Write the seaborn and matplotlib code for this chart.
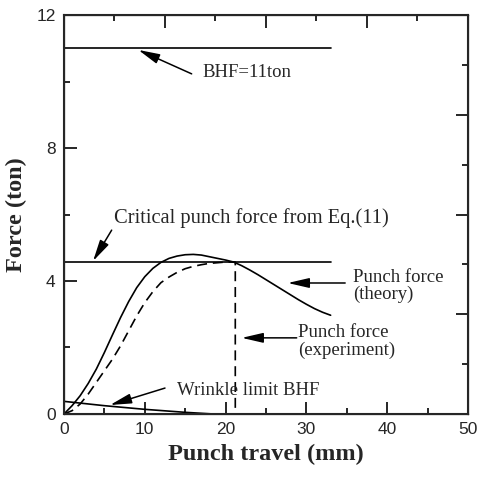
import numpy as np
import pandas as pd
import matplotlib
matplotlib.use("Agg")
import matplotlib.pyplot as plt
import seaborn as sns

# data
theory_x = [0, 1, 2, 3, 4, 5, 6, 7, 8, 9, 10, 11, 12, 13, 14, 15, 16, 17, 18, 19, 20,
            21, 22, 23, 24, 25, 26, 27, 28, 29, 30, 31, 32, 33]
theory_y = [0, 0.25, 0.55, 0.92, 1.35, 1.85, 2.38, 2.9, 3.38, 3.8, 4.13, 4.38, 4.56, 4.68, 4.75,
            4.79, 4.8, 4.78, 4.73, 4.68, 4.63, 4.57, 4.46, 4.33, 4.19, 4.04, 3.89, 3.74,
            3.59, 3.44, 3.3, 3.17, 3.06, 2.97]

exp_x = [0, 1, 2, 3, 4, 5, 6, 7, 8, 9, 10, 11, 12, 13, 14, 15, 16, 17, 18, 19, 20, 21.2, 21.2]
exp_y = [0, 0.1, 0.3, 0.6, 0.95, 1.3, 1.65, 2.05, 2.5, 2.95, 3.35, 3.68, 3.95, 4.12, 4.26,
         4.37, 4.44, 4.49, 4.53, 4.55, 4.57, 4.57, 0]

wrinkle_x = [0, 5, 10, 15, 18.5]
wrinkle_y = [0.38, 0.25, 0.14, 0.05, 0]

bhf_x = [0, 33]
bhf_y = [11, 11]
critical_x = [0, 33]
critical_y = [4.57, 4.57]

sns.set_style("ticks")
plt.rcParams['font.family'] = ['Liberation Serif', 'DejaVu Serif']

fig = plt.figure(figsize=(4.79, 4.78), dpi=100)
ax = fig.add_axes([0.1336, 0.1339, 0.9770 - 0.1336, 0.9686 - 0.1339])

lw = 1.2
sns.lineplot(x=theory_x, y=theory_y, ax=ax, color='black', lw=lw, sort=False, estimator=None)
sns.lineplot(x=exp_x, y=exp_y, ax=ax, color='black', lw=lw, sort=False, estimator=None,
             dashes=False, linestyle=(0, (6, 3.5)))
sns.lineplot(x=wrinkle_x, y=wrinkle_y, ax=ax, color='black', lw=lw, sort=False, estimator=None)
sns.lineplot(x=bhf_x, y=bhf_y, ax=ax, color='black', lw=lw, sort=False, estimator=None)
sns.lineplot(x=critical_x, y=critical_y, ax=ax, color='black', lw=lw, sort=False, estimator=None)

ax.set_xlim(0, 50)
ax.set_ylim(0, 12)
ax.set_xticks([0, 10, 20, 30, 40, 50])
ax.set_xticks([5, 15, 25, 35, 45], minor=True)
ax.set_yticks([0, 4, 8, 12])
ax.set_yticks([2, 6, 10], minor=True)

tick_font = {'family': 'Liberation Sans', 'size': 12.5}
ax.set_xticklabels(['0', '10', '20', '30', '40', '50'], fontdict=tick_font)
ax.set_yticklabels(['0', '4', '8', '12'], fontdict=tick_font)
ax.tick_params(which='major', direction='in', length=9, width=1.4, pad=6)
ax.tick_params(which='minor', direction='in', length=4.5, width=1.4)

for side in ax.spines.values():
    side.set_linewidth(1.5)
    side.set_visible(True)

# ticks on top and right with their own spacing
top = ax.twiny()
top.set_xlim(0, 50)
top.set_xticks([12.5, 25, 37.5])
top.set_xticks([6.25, 18.75, 31.25, 43.75], minor=True)
top.set_xticklabels([])
top.tick_params(which='major', direction='in', length=9, width=1.4)
top.tick_params(which='minor', direction='in', length=4.5, width=1.4)

right = ax.twinx()
right.set_ylim(0, 12)
right.set_yticks([3, 6, 9])
right.set_yticks([1.5, 4.5, 7.5, 10.5], minor=True)
right.set_yticklabels([])
right.tick_params(which='major', direction='in', length=9, width=1.4)
right.tick_params(which='minor', direction='in', length=4.5, width=1.4)

ax.set_xlabel('Punch travel (mm)', fontsize=17.5, fontweight='bold', labelpad=5)
ax.set_ylabel('Force (ton)', fontsize=17.5, fontweight='bold', labelpad=7)

# annotations
arrow = dict(arrowstyle='-|>,head_length=1.3,head_width=0.3', color='black', lw=1.1,
             mutation_scale=10, shrinkA=0, shrinkB=0)
txt = dict(fontsize=13.5, va='center', ha='left')

ax.annotate('', xy=(9.2, 10.95), xytext=(15.8, 10.23), arrowprops=arrow)
ax.text(17.1, 10.26, 'BHF=11ton', **txt)

ax.annotate('', xy=(3.6, 4.6), xytext=(5.9, 5.53), arrowprops=arrow)
ax.text(6.2, 5.89, 'Critical punch force from Eq.(11)', fontsize=14.8, va='center', ha='left')

ax.annotate('', xy=(27.7, 3.94), xytext=(34.8, 3.94), arrowprops=arrow)
ax.text(35.8, 3.85, 'Punch force\n(theory)', linespacing=1.05, **txt)

ax.annotate('', xy=(22.0, 2.29), xytext=(28.8, 2.29), arrowprops=arrow)
ax.text(29.0, 2.17, 'Punch force\n(experiment)', linespacing=1.05, **txt)

ax.annotate('', xy=(5.7, 0.27), xytext=(12.5, 0.78), arrowprops=arrow)
ax.text(14.0, 0.72, 'Wrinkle limit BHF', **txt)

fig.savefig('out.png', dpi=100)
